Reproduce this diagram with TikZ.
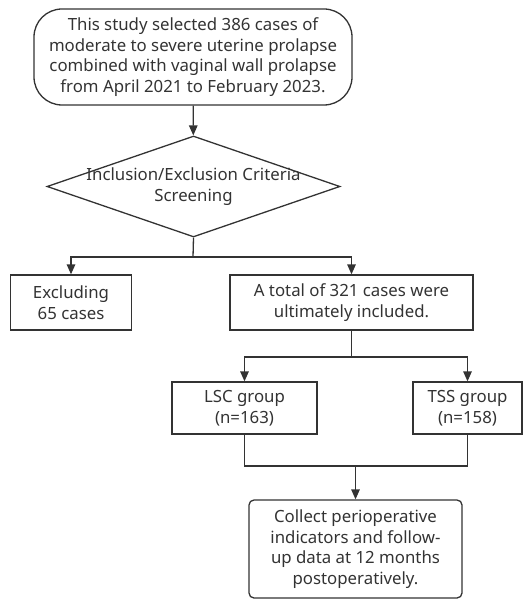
\documentclass[tikz,border=0pt]{standalone}
\usepackage{fontspec}
\setmainfont{Noto Sans}
\usetikzlibrary{arrows.meta, shapes.geometric}
\definecolor{ink}{HTML}{333333}

\begin{document}
\begin{tikzpicture}[x=1pt, y=-1pt, line width=1.3pt, ink,
  every node/.style={text=ink, font=\fontsize{16.8}{20.5}\selectfont},
  box/.style={draw, rectangle, align=center, inner sep=0pt},
  arr/.style={-{Triangle[length=10pt, width=8.5pt]}}]
\useasboundingbox (0,0) rectangle (529,601);
% boxes
\node [box, rounded corners=28pt, minimum width=318pt, minimum height=96pt] (start) at (193,57)
  {This study selected 386 cases of\\moderate to severe uterine prolapse\\combined with vaginal wall prolapse\\from April 2021 to February 2023.};
\node [diamond, draw, minimum width=293pt, minimum height=101pt, inner sep=0pt] (screen) at (193.5,186.5) {};
\node [align=center] at (screen) {Inclusion/Exclusion Criteria\\Screening};
\node [box, minimum width=121pt, minimum height=55pt] (excl) at (71,302.5) {Excluding\\65 cases};
\node [box, minimum width=243pt, minimum height=55pt] (total) at (351.5,302.5) {A total of 321 cases were\\ultimately included.};
\node [box, minimum width=145pt, minimum height=52pt] (lsc) at (244.5,408) {LSC group\\(n=163)};
\node [box, minimum width=109pt, minimum height=52pt] (tss) at (467.5,408) {TSS group\\(n=158)};
\node [box, rounded corners=5pt, minimum width=213pt, minimum height=98pt] (collect) at (355.5,549)
  {Collect perioperative\\indicators and follow-\\up data at 12 months\\postoperatively.};
% connectors
\coordinate (split) at (193,257);
\coordinate (split2) at (351.5,357);
\coordinate (merge) at (355.5,466);
\draw [arr] (start) -- (screen);
\draw (screen.south) -- (split);
\draw [arr] (split) -| (excl.north);
\draw [arr] (split) -| (total.north);
\draw (total.south) -- (split2);
\draw [arr] (split2) -| (lsc.north);
\draw [arr] (split2) -| (tss.north);
\draw (lsc.south) |- (merge) -| (tss.south);
\draw [arr] (merge) -- (collect.north);
\end{tikzpicture}
\end{document}
